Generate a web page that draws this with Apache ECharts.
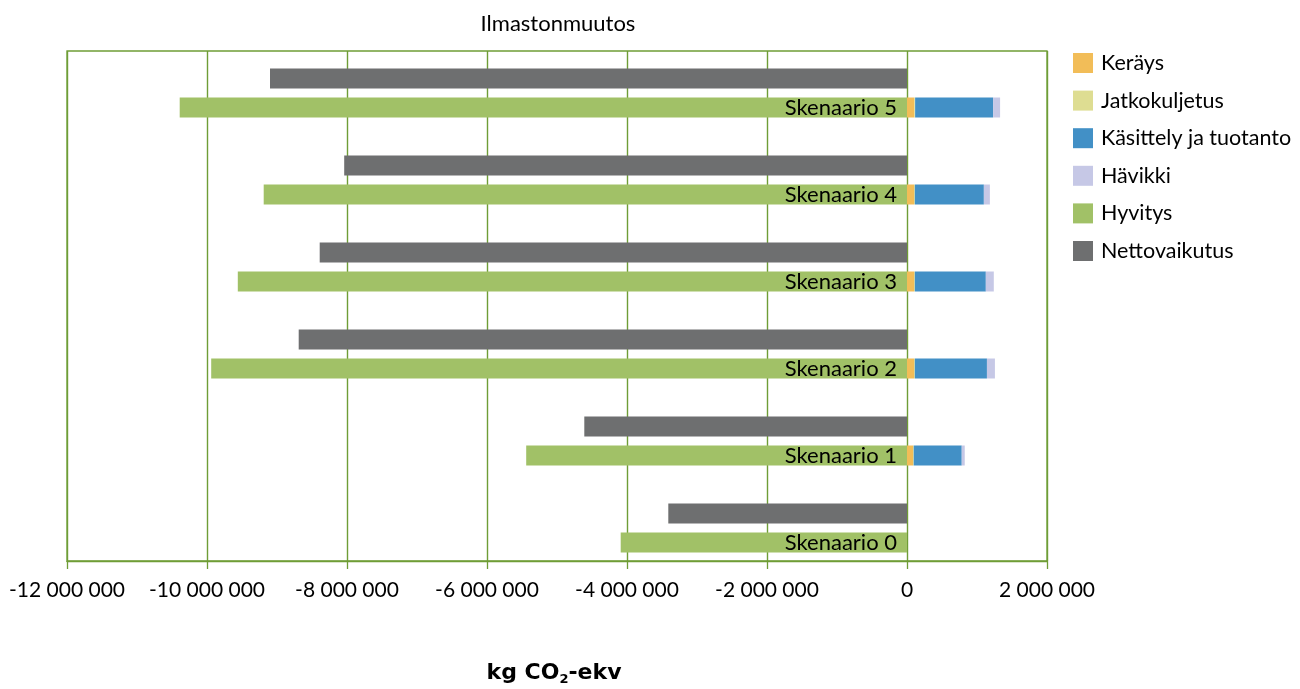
<!DOCTYPE html>
<html>
<head>
<meta charset="utf-8">
<title>Ilmastonmuutos</title>
<script src="https://cdn.jsdelivr.net/npm/echarts@6/dist/echarts.min.js"></script>
<style>
  html, body { margin: 0; padding: 0; background: #ffffff; }
  #chart { width: 1300px; height: 689px; }
</style>
</head>
<body>
<div id="chart"></div>
<script>
// Scenarios, bottom to top
const scenarios = ['Skenaario 0', 'Skenaario 1', 'Skenaario 2', 'Skenaario 3', 'Skenaario 4', 'Skenaario 5'];

// Climate impact components, kg CO2-ekv
const kerays        = [0,  86000,  100000,  100000,  100000,  104000];
const jatkokuljetus = [0,  10000,   12000,   12000,   12000,   12000];
const kasittely     = [0, 686000, 1030000, 1014000,  986000, 1114000];
const havikki       = [0,  43000,  114000,  114000,   86000,  100000];
const hyvitys       = [-4090000, -5440000, -9940000, -9560000, -9190000, -10390000];
const nettovaikutus = [-3410000, -4610000, -8690000, -8390000, -8040000, -9100000];

// Value axis ticks
const xMin = -12000000;
const xMax = 2000000;
const xStep = 2000000;

const legendNames = ['Keräys', 'Jatkokuljetus', 'Käsittely ja tuotanto', 'Hävikki', 'Hyvitys', 'Nettovaikutus'];

const FONT = 'Lato, "DejaVu Sans", sans-serif';
const BOLD_FONT = '"DejaVu Sans", Lato, sans-serif';
const GREEN_LINE = '#6f9d36';

function spaced(v) {
  return String(v).replace(/\B(?=(\d{3})+(?!\d))/g, ' ');
}

const chart = echarts.init(document.getElementById('chart'), null, { renderer: 'canvas' });

function stackPart(name, data, color, extra) {
  return Object.assign({
    name: name,
    type: 'bar',
    stack: 'osat',
    xAxisIndex: 1,
    yAxisIndex: 1,
    barWidth: 20,
    barGap: '45%',
    data: data,
    itemStyle: { color: color },
    emphasis: { disabled: true }
  }, extra || {});
}

const option = {
  animation: false,
  backgroundColor: '#ffffff',
  textStyle: { fontFamily: FONT },
  title: {
    text: 'Ilmastonmuutos',
    left: 553,
    top: 8,
    textAlign: 'center',
    textStyle: { fontFamily: FONT, fontSize: 22, fontWeight: 'normal', color: '#000000' }
  },
  legend: {
    orient: 'vertical',
    left: 1073,
    top: 52,
    padding: 0,
    itemWidth: 20,
    itemHeight: 20,
    itemGap: 15.6,
    icon: 'rect',
    data: legendNames,
    selectedMode: false,
    textStyle: { fontFamily: FONT, fontSize: 21.5, color: '#000000', padding: [0, 0, 0, 3] }
  },
  grid: [
    // frame with value axis
    { left: 67, top: 51, width: 980, height: 510, show: true, borderColor: GREEN_LINE, borderWidth: 1.3, backgroundColor: 'transparent' },
    // bar layout
    { left: 67, top: 49.5, width: 980, height: 522, show: false }
  ],
  xAxis: [
    {
      gridIndex: 0,
      type: 'value',
      min: xMin,
      max: xMax,
      interval: xStep,
      axisLine: { show: true, lineStyle: { color: GREEN_LINE, width: 1.3 } },
      axisTick: { show: true, length: 8, lineStyle: { color: GREEN_LINE, width: 1.3 } },
      splitLine: { show: true, lineStyle: { color: GREEN_LINE, width: 1.4, opacity: 1 } },
      axisLabel: {
        margin: 19,
        fontFamily: FONT,
        fontSize: 21,
        color: '#000000',
        formatter: spaced
      }
    },
    {
      gridIndex: 1,
      type: 'value',
      min: xMin,
      max: xMax,
      show: false
    }
  ],
  yAxis: [
    { gridIndex: 0, type: 'value', min: 0, max: 1, show: false, splitLine: { show: false } },
    {
      gridIndex: 1,
      type: 'category',
      data: scenarios,
      show: false
    }
  ],
  series: [
    {
      name: 'Nettovaikutus',
      type: 'bar',
      xAxisIndex: 1,
      yAxisIndex: 1,
      barWidth: 20,
      barGap: '45%',
      data: nettovaikutus,
      itemStyle: { color: '#6e6f70' },
      emphasis: { disabled: true }
    },
    stackPart('Keräys', kerays, '#f2bd58'),
    stackPart('Jatkokuljetus', jatkokuljetus, '#dedd92'),
    stackPart('Käsittely ja tuotanto', kasittely, '#4290c6'),
    stackPart('Hävikki', havikki, '#c6c8e6'),
    stackPart('Hyvitys', hyvitys, '#a1c167', {
      label: {
        show: true,
        position: 'insideRight',
        distance: 10,
        fontFamily: FONT,
        fontSize: 22,
        color: '#000000',
        formatter: function (p) { return p.name; }
      }
    })
  ],
  graphic: [
    {
      type: 'text',
      x: 554,
      y: 674,
      style: {
        text: '{m|kg CO}{s|2}{m|-ekv}',
        align: 'center',
        verticalAlign: 'middle',
        rich: {
          m: { fontFamily: BOLD_FONT, fontSize: 22, fontWeight: 'bold', color: '#000000', lineHeight: 24, verticalAlign: 'top' },
          s: { fontFamily: BOLD_FONT, fontSize: 13, fontWeight: 'bold', color: '#000000', lineHeight: 13, verticalAlign: 'bottom', padding: [19, 0, 0, 0] }
        }
      }
    }
  ]
};

chart.setOption(option);
</script>
</body>
</html>
